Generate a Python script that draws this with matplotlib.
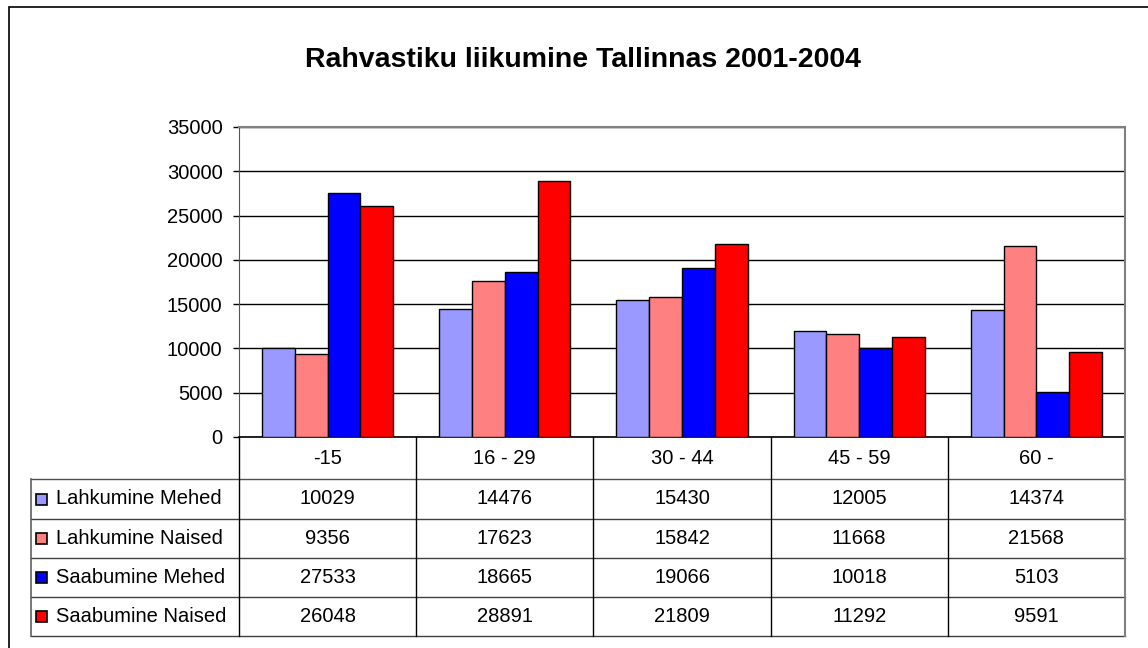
import matplotlib
matplotlib.use("Agg")
import matplotlib.pyplot as plt
from matplotlib.patches import Rectangle
from matplotlib.lines import Line2D
import numpy as np

plt.rcParams['font.family'] = ['Liberation Sans', 'DejaVu Sans']

title = "Rahvastiku liikumine Tallinnas 2001-2004"
categories = ["-15", "16 - 29", "30 - 44", "45 - 59", "60 -"]
series_names = ["Lahkumine Mehed", "Lahkumine Naised", "Saabumine Mehed", "Saabumine Naised"]
lahkumine_mehed = [10029, 14476, 15430, 12005, 14374]
lahkumine_naised = [9356, 17623, 15842, 11668, 21568]
saabumine_mehed = [27533, 18665, 19066, 10018, 5103]
saabumine_naised = [26048, 28891, 21809, 11292, 9591]
series_values = [lahkumine_mehed, lahkumine_naised, saabumine_mehed, saabumine_naised]
colors = ["#9999FF", "#FF8080", "#0000FF", "#FF0000"]
yticks = [0, 5000, 10000, 15000, 20000, 25000, 30000, 35000]

FS = 14.5
W, H = 1148, 648
fig = plt.figure(figsize=(W / 100, H / 100), dpi=100)

def fx(x):
    return x / W

def fy(y):
    return 1 - y / H

# outer border
fig.add_artist(Rectangle((fx(9), fy(660)), fx(1160) - fx(9), fy(7) - fy(660),
                         transform=fig.transFigure, fill=False, edgecolor="#000000",
                         linewidth=1.2))

left, right, top, bottom = 239, 1125, 127, 437
ax = fig.add_axes([fx(left), fy(bottom), fx(right) - fx(left), fy(top) - fy(bottom)])

n = len(categories)
x = np.arange(n)
bw = 0.74 / 4
for i, (vals, c) in enumerate(zip(series_values, colors)):
    ax.bar(x + (i - 1.5) * bw, vals, width=bw, color=c, edgecolor="black",
           linewidth=1.0, zorder=3)

ax.set_xlim(-0.5, n - 0.5)
ax.set_ylim(0, 35000)
ax.set_yticks(yticks)
ax.set_yticklabels([str(v) for v in yticks], fontsize=FS)
ax.set_xticks([])
ax.yaxis.grid(True, color="black", linewidth=1.0, zorder=0)
ax.tick_params(axis="y", length=4.3, width=1, direction="out", pad=7.5, colors="black")
for s in ["top", "right"]:
    ax.spines[s].set_color("#808080")
    ax.spines[s].set_linewidth(1.5)
ax.spines["left"].set_color("#555555")
ax.spines["bottom"].set_color("black")
ax.spines["bottom"].set_linewidth(1.2)

fig.text(fx(583), fy(60), title, ha="center", va="center", fontsize=20.5, fontweight="bold")

# data table
col_w = (right - left) / n
row_lines = [437, 479, 519, 558, 597, 636]
tleft = 31

def hline(y, x0, x1, color="#404040", lw=1.0):
    fig.add_artist(Line2D([fx(x0), fx(x1)], [fy(y), fy(y)], transform=fig.transFigure,
                          color=color, linewidth=lw))

def vline(x0, y0, y1, color="black", lw=1.0):
    fig.add_artist(Line2D([fx(x0), fx(x0)], [fy(y0), fy(y1)], transform=fig.transFigure,
                          color=color, linewidth=lw))

for k, yy in enumerate(row_lines[1:]):
    hline(yy, tleft, right, color="#404040" if k > 0 else "#505050")
vline(tleft, row_lines[1], row_lines[-1], color="#606060", lw=1.2)
for j in range(n + 1):
    xx = left + j * col_w
    col = "#808080" if j == n else "black"
    vline(xx, row_lines[0], row_lines[-1], color=col, lw=1.5 if j == n else 1.0)

for j, cat in enumerate(categories):
    cx = left + (j + 0.5) * col_w
    fig.text(fx(cx), fy((row_lines[0] + row_lines[1]) / 2), cat, ha="center", va="center",
             fontsize=FS)

for i, (name, vals, c) in enumerate(zip(series_names, series_values, colors)):
    cy = (row_lines[i + 1] + row_lines[i + 2]) / 2
    fig.add_artist(Rectangle((fx(36), fy(cy + 5.5)), fx(11), fy(0) - fy(11),
                             transform=fig.transFigure, facecolor=c, edgecolor="black",
                             linewidth=1.2))
    fig.text(fx(56), fy(cy), name, ha="left", va="center", fontsize=FS)
    for j, v in enumerate(vals):
        cx = left + (j + 0.5) * col_w
        fig.text(fx(cx), fy(cy), str(v), ha="center", va="center", fontsize=FS)

fig.savefig("out.png", dpi=100)
